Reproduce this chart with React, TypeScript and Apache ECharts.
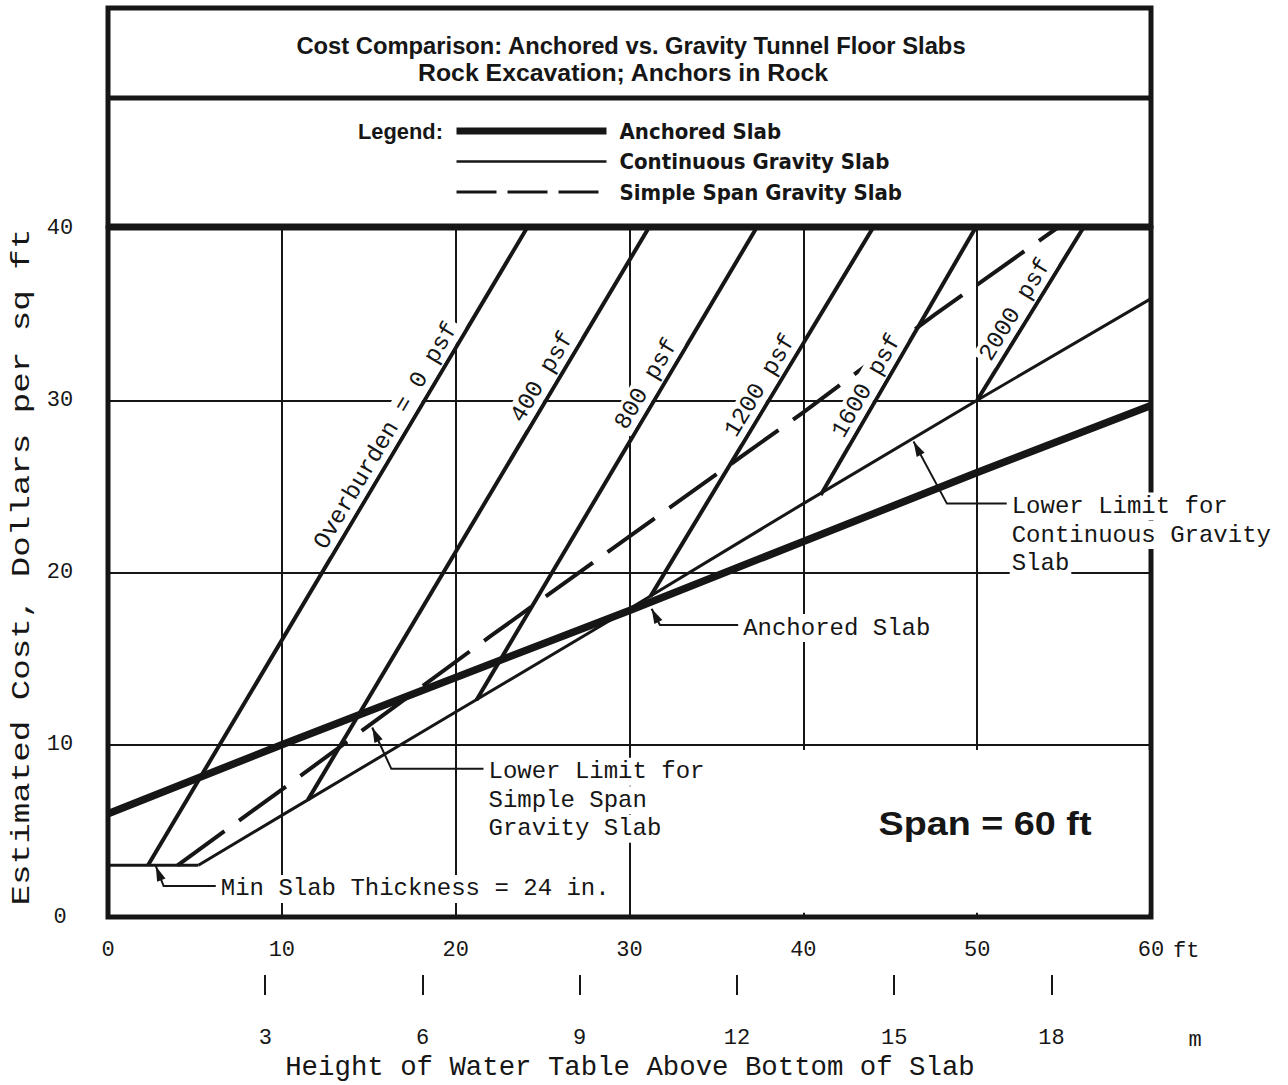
import React, { useEffect, useRef } from "react";
import * as echarts from "echarts";

// ---------------- data ----------------
const xTicksFt = [0, 10, 20, 30, 40, 50, 60];
const yTicks = [0, 10, 20, 30, 40];
const meterTicks = [3, 6, 9, 12, 15, 18];
const meterAxisMax = 19.9; // metre scale as drawn on the original sheet

const anchoredSlab = [[0, 6.0], [10, 10.0], [20, 13.9], [30, 17.8], [40, 21.8], [50, 25.8], [60, 29.7]];
const minSlabThickness = [[0, 3.0], [5.2, 3.0]];
const continuousLowerLimit = [[5.2, 3.0], [10, 5.9], [20, 11.9], [30, 17.9], [40, 24.0], [50, 30.0], [60, 35.9]];
const simpleSpanLowerLimit = [[4.0, 3.0], [10, 7.4], [22, 16.3], [30, 22.1], [40, 29.3], [47.6, 35.0], [54.6, 40.0]];

const overburdenNames = ["Overburden = 0 psf", "400 psf", "800 psf", "1200 psf", "1600 psf", "2000 psf"];
const overburden0 = [[2.3, 3.0], [24.1, 40.0]];
const overburden400 = [[11.5, 6.8], [31.1, 40.0]];
const overburden800 = [[21.2, 12.6], [37.3, 40.0]];
const overburden1200 = [[31.2, 18.6], [44.0, 40.0]];
const overburden1600 = [[41.0, 24.5], [49.9, 40.0]];
const overburden2000 = [[50.0, 30.0], [56.1, 40.0]];
const overburdenLines = [overburden0, overburden400, overburden800, overburden1200, overburden1600, overburden2000];
const overburdenLabelY = [27.5, 30.9, 30.5, 30.4, 30.4, 34.8];

const leaderMinSlab = [[2.75, 2.95], [3.2, 1.8], [6.2, 1.8]];
const leaderSimpleSpan = [[15.2, 11.0], [16.3, 8.6], [21.6, 8.6]];
const leaderAnchored = [[31.27, 17.9], [31.75, 16.95], [36.25, 16.95]];
const leaderContinuous = [[46.34, 27.6], [48.26, 24.0], [51.7, 24.0]];

const noteMinSlab = ["Min Slab Thickness = 24 in."];
const noteSimpleSpan = ["Lower Limit for", "Simple Span", "Gravity Slab"];
const noteAnchored = ["Anchored Slab"];
const noteContinuous = ["Lower Limit for", "Continuous Gravity", "Slab"];

const titleLines = ["Cost Comparison: Anchored vs. Gravity Tunnel Floor Slabs", "Rock Excavation; Anchors in Rock"];
const legendNames = ["Anchored Slab", "Continuous Gravity Slab", "Simple Span Gravity Slab"];
const xTitle = "Height of Water Table Above Bottom of Slab";
const yTitle = "Estimated Cost, Dollars per sq ft";
const spanNote = "Span = 60 ft";

// ---------------- styling ----------------
const INK = "#161616";
const CLEAR = "rgba(0,0,0,0)";
const MONO = '"Liberation Mono", "DejaVu Sans Mono", monospace';
const BOLD_FAMILY = '"Liberation Sans Narrow", "DejaVu Sans Condensed", "Liberation Sans", Arial, sans-serif';
const DASH = [58, 18];
const LEGEND_DASH = [40, 11];
const W_ANCHORED = 7.5;
const W_CONT = 3;
const W_DASH = 4;
const W_STEEP = 4;

const GRID = { left: 108, right: 137, top: 228, bottom: 168 };

function measure(text: string, font: string): number {
  const c = document.createElement("canvas").getContext("2d");
  if (!c) return text.length * 10;
  c.font = font;
  return c.measureText(text).width;
}

export default function App() {
  const ref = useRef<HTMLDivElement>(null);

  useEffect(() => {
    document.body.style.margin = "0";
    const el = ref.current;
    if (!el) return;
    const chart = echarts.init(el, null, { renderer: "svg" });

    const lineSeries = (name: string, data: number[][], width: number, dashed = false) => ({
      type: "line",
      name,
      data,
      symbol: "none",
      silent: true,
      lineStyle: { color: INK, width, type: dashed ? DASH : "solid", cap: "butt" },
      itemStyle: { color: CLEAR, borderWidth: 0 },
      xAxisIndex: 0,
      yAxisIndex: 0,
    });

    const series: any[] = [
      lineSeries(legendNames[0], anchoredSlab, W_ANCHORED),
      lineSeries(legendNames[1], continuousLowerLimit, W_CONT),
      lineSeries(legendNames[2], simpleSpanLowerLimit, W_DASH, true),
      lineSeries("Min Slab Thickness", minSlabThickness, W_CONT),
      ...overburdenLines.map((d, i) => lineSeries(overburdenNames[i], d, W_STEEP)),
    ];

    const option: any = {
      animation: false,
      backgroundColor: "#ffffff",
      grid: { ...GRID, show: true, borderColor: INK, borderWidth: 5, backgroundColor: "transparent", containLabel: false, outerBoundsMode: "none" },
      legend: {
        data: [
          { name: legendNames[0], lineStyle: { width: 7, color: INK, type: "solid" } },
          { name: legendNames[1], lineStyle: { width: 2.5, color: INK, type: "solid" } },
          { name: legendNames[2], lineStyle: { width: 3, color: INK, type: LEGEND_DASH } },
        ],
        orient: "vertical",
        left: 448,
        top: 115,
        padding: 5,
        itemWidth: 150,
        itemHeight: 22,
        itemGap: 8.5,
        selectedMode: false,
        itemStyle: { opacity: 0, color: CLEAR, borderWidth: 0 },
        textStyle: { color: INK, fontFamily: BOLD_FAMILY, fontWeight: "bold", fontSize: 22, padding: [0, 0, 0, 8] },
      },
      xAxis: [
        {
          type: "value",
          min: xTicksFt[0],
          max: xTicksFt[xTicksFt.length - 1],
          interval: 10,
          position: "bottom",
          axisLine: { show: false },
          axisTick: { show: false },
          axisLabel: { color: INK, fontFamily: MONO, fontSize: 22, margin: 22 },
          splitLine: { show: true, lineStyle: { color: INK, width: 2 } },
        },
        {
          type: "value",
          min: 0,
          max: meterAxisMax,
          position: "bottom",
          offset: 58,
          axisLine: { show: false },
          axisTick: { show: true, customValues: meterTicks, length: 20, lineStyle: { color: INK, width: 2 } },
          axisLabel: { customValues: meterTicks, color: INK, fontFamily: MONO, fontSize: 22, margin: 52 },
          splitLine: { show: false },
        },
      ],
      yAxis: {
        type: "value",
        min: yTicks[0],
        max: yTicks[yTicks.length - 1],
        interval: 10,
        axisLine: { show: false },
        axisTick: { show: false },
        axisLabel: { color: INK, fontFamily: MONO, fontSize: 22, margin: 48, align: "center" },
        splitLine: { show: true, lineStyle: { color: INK, width: 2 } },
      },
      series,
    };

    chart.setOption(option);

    const P = (p: number[]) => chart.convertToPixel({ seriesIndex: 0 }, p) as number[];
    const gridLeft = GRID.left;
    const gridRight = 1288 - GRID.right;
    const g: any[] = [];
    const Z = 100;

    // header boxes
    g.push({ type: "rect", z: Z, shape: { x: gridLeft, y: 8, width: gridRight - gridLeft, height: 218 }, style: { fill: "none", stroke: INK, lineWidth: 5 } });
    g.push({ type: "line", z: Z, shape: { x1: gridLeft, y1: 98, x2: gridRight, y2: 98 }, style: { stroke: INK, lineWidth: 5 } });

    // title lines (bold condensed look via horizontal scale)
    const titleFont = "bold 24px " + '"Liberation Sans", Arial, sans-serif';
    const titleTargets = [670, 411];
    const titleCenters = [[631, 45], [623, 73]];
    titleLines.forEach((t, i) => {
      const s = titleTargets[i] / measure(t, titleFont);
      g.push({ type: "text", z: Z, x: titleCenters[i][0], y: titleCenters[i][1], scaleX: s, style: { text: t, font: titleFont, fill: INK, align: "center", verticalAlign: "middle" } });
    });

    // "Legend:" prefix
    const legFont = "bold 22px " + '"Liberation Sans", Arial, sans-serif';
    g.push({ type: "text", z: Z, x: 443, y: 131, scaleX: 85 / measure("Legend:", legFont), style: { text: "Legend:", font: legFont, fill: INK, align: "right", verticalAlign: "middle" } });

    // white panel behind the span note
    const pA = P([37.5, 9.7]);
    const pB = P([59.85, 0.25]);
    g.push({ type: "rect", z: Z - 1, shape: { x: pA[0], y: pA[1], width: pB[0] - pA[0], height: pB[1] - pA[1] }, style: { fill: "#ffffff" } });
    const spanFont = "bold 34px " + '"Liberation Sans", Arial, sans-serif';
    g.push({ type: "text", z: Z, x: 985, y: 823, scaleX: 213 / measure(spanNote, spanFont), style: { text: spanNote, font: spanFont, fill: INK, align: "center", verticalAlign: "middle" } });

    // overburden labels along the steep lines
    const noteFont = "24px " + MONO;
    overburdenLines.forEach((ln, i) => {
      const a = P(ln[0]);
      const b = P(ln[1]);
      const yv = overburdenLabelY[i];
      const t = (yv - ln[0][1]) / (ln[1][1] - ln[0][1]);
      const xv = ln[0][0] + t * (ln[1][0] - ln[0][0]);
      const c = P([xv, yv]);
      const dx = b[0] - a[0];
      const dy = b[1] - a[1];
      const L = Math.hypot(dx, dy);
      const ux = dx / L;
      const uy = dy / L;
      const off = 15;
      g.push({
        type: "text",
        z: Z,
        x: c[0] + uy * off,
        y: c[1] - ux * off,
        rotation: Math.atan2(-dy, dx),
        style: { text: overburdenNames[i], font: noteFont, fill: INK, align: "center", verticalAlign: "middle", backgroundColor: "#ffffff", padding: [1, 3] },
      });
    });

    // leaders with arrowheads and their notes
    const leader = (pts: number[][], lines: string[]) => {
      const px = pts.map(P);
      g.push({ type: "polyline", z: Z, shape: { points: px }, style: { stroke: INK, lineWidth: 2, fill: "none" } });
      const T = px[0];
      const E = px[1];
      const len = Math.hypot(T[0] - E[0], T[1] - E[1]);
      const d = [(T[0] - E[0]) / len, (T[1] - E[1]) / len];
      const base = [T[0] - d[0] * 15, T[1] - d[1] * 15];
      const n = [-d[1], d[0]];
      g.push({ type: "polygon", z: Z, shape: { points: [T, [base[0] + n[0] * 4.5, base[1] + n[1] * 4.5], [base[0] - n[0] * 4.5, base[1] - n[1] * 4.5]] }, style: { fill: INK } });
      const end = px[px.length - 1];
      lines.forEach((txt, k) => {
        g.push({ type: "text", z: Z, x: end[0] + 3, y: end[1] + 3 + k * 28.5, style: { text: txt, font: noteFont, fill: INK, align: "left", verticalAlign: "middle", backgroundColor: "#ffffff", padding: [2, 2] } });
      });
    };
    leader(leaderMinSlab, noteMinSlab);
    leader(leaderSimpleSpan, noteSimpleSpan);
    leader(leaderAnchored, noteAnchored);
    leader(leaderContinuous, noteContinuous);

    // unit marks next to the axes
    const unitFont = "22px " + MONO;
    const ft60 = P([60, 0]);
    g.push({ type: "text", z: Z, x: ft60[0] + 22, y: 951, style: { text: "ft", font: unitFont, fill: INK, align: "left", verticalAlign: "middle" } });
    g.push({ type: "text", z: Z, x: 1195, y: 1040, style: { text: "m", font: unitFont, fill: INK, align: "center", verticalAlign: "middle" } });

    // axis titles
    const xFont = "27px " + MONO;
    g.push({ type: "text", z: Z, x: 630, y: 1068, scaleX: 690 / measure(xTitle, xFont), style: { text: xTitle, font: xFont, fill: INK, align: "center", verticalAlign: "middle" } });
    const yFont = "26px " + MONO;
    g.push({ type: "text", z: Z, x: 22, y: 567, rotation: Math.PI / 2, scaleX: 677 / measure(yTitle, yFont), style: { text: yTitle, font: yFont, fill: INK, align: "center", verticalAlign: "middle" } });

    chart.setOption({ graphic: g });

    return () => chart.dispose();
  }, []);

  return <div ref={ref} style={{ width: 1288, height: 1085 }} />;
}
